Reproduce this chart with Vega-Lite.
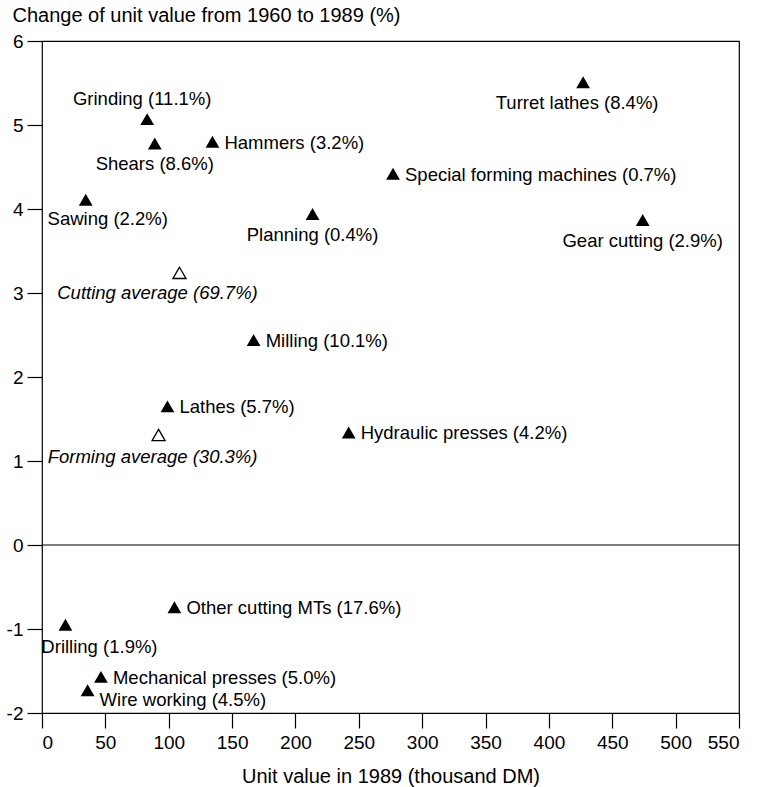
{
  "$schema": "https://vega.github.io/schema/vega-lite/v6.json",
  "width": 697,
  "height": 672,
  "autosize": {"type": "none"},
  "padding": {"left": 42, "top": 41, "right": 20, "bottom": 74},
  "background": "white",
  "config": {
    "view": {"stroke": "black", "strokeWidth": 1.2},
    "font": "Liberation Sans",
    "axis": {
      "domain": false,
      "grid": false,
      "tickColor": "black",
      "tickWidth": 1.2,
      "tickSize": 15,
      "labelColor": "black",
      "labelFont": "Liberation Sans",
      "labelFontSize": 19,
      "titleColor": "black",
      "titleFont": "Liberation Sans",
      "titleFontSize": 20,
      "titleFontWeight": "normal"
    },
    "text": {"font": "Liberation Sans", "fontSize": 18.5, "color": "black", "baseline": "middle"}
  },
  "data": {
    "values": [
      {"machine": "Turret lathes", "label": "Turret lathes (8.4%)", "kind": "type", "unit_value": 427, "change": 5.51},
      {"machine": "Special forming machines", "label": "Special forming machines (0.7%)", "kind": "type", "unit_value": 277, "change": 4.42},
      {"machine": "Gear cutting", "label": "Gear cutting (2.9%)", "kind": "type", "unit_value": 474, "change": 3.87},
      {"machine": "Grinding", "label": "Grinding (11.1%)", "kind": "type", "unit_value": 83, "change": 5.07},
      {"machine": "Shears", "label": "Shears (8.6%)", "kind": "type", "unit_value": 89, "change": 4.78},
      {"machine": "Hammers", "label": "Hammers (3.2%)", "kind": "type", "unit_value": 134.5, "change": 4.8},
      {"machine": "Sawing", "label": "Sawing (2.2%)", "kind": "type", "unit_value": 34.5, "change": 4.11},
      {"machine": "Planning", "label": "Planning (0.4%)", "kind": "type", "unit_value": 213.5, "change": 3.94},
      {"machine": "Cutting average", "label": "Cutting average (69.7%)", "kind": "average", "unit_value": 108.5, "change": 3.24},
      {"machine": "Milling", "label": "Milling (10.1%)", "kind": "type", "unit_value": 167, "change": 2.44},
      {"machine": "Lathes", "label": "Lathes (5.7%)", "kind": "type", "unit_value": 99, "change": 1.65},
      {"machine": "Forming average", "label": "Forming average (30.3%)", "kind": "average", "unit_value": 92, "change": 1.31},
      {"machine": "Hydraulic presses", "label": "Hydraulic presses (4.2%)", "kind": "type", "unit_value": 242, "change": 1.34},
      {"machine": "Other cutting MTs", "label": "Other cutting MTs (17.6%)", "kind": "type", "unit_value": 104.5, "change": -0.74},
      {"machine": "Drilling", "label": "Drilling (1.9%)", "kind": "type", "unit_value": 18.5, "change": -0.95},
      {"machine": "Mechanical presses", "label": "Mechanical presses (5.0%)", "kind": "type", "unit_value": 46.5, "change": -1.57},
      {"machine": "Wire working", "label": "Wire working (4.5%)", "kind": "type", "unit_value": 36, "change": -1.73}
    ]
  },
  "layer": [
    {
      "data": {"values": [{"line": "zero"}]},
      "mark": {"type": "rule", "color": "black", "strokeWidth": 1.2},
      "encoding": {"y": {"datum": 0, "type": "quantitative"}}
    },
    {
      "encoding": {
        "x": {
          "field": "unit_value",
          "type": "quantitative",
          "scale": {"domain": [0, 550], "nice": false, "zero": false},
          "axis": {
            "values": [0, 50, 100, 150, 200, 250, 300, 350, 400, 450, 500, 550],
            "format": "d",
            "title": "Unit value in 1989 (thousand DM)",
            "labelPadding": 5,
            "titleY": 69,
            "titleBaseline": "alphabetic"
          }
        },
        "y": {
          "field": "change",
          "type": "quantitative",
          "scale": {"domain": [-2, 6], "nice": false, "zero": false},
          "axis": {
            "values": [-2, -1, 0, 1, 2, 3, 4, 5, 6],
            "labelExpr": "datum.value + ''",
            "title": "Change of unit value from 1960 to 1989 (%)",
            "labelPadding": 4,
            "titleAngle": 0,
            "titleAlign": "left",
            "titleBaseline": "alphabetic",
            "titleX": -30,
            "titleY": -20
          }
        }
      },
      "layer": [
        {
          "transform": [{"filter": "datum.kind === 'type'"}],
          "mark": {"type": "point", "shape": "triangle-up", "size": 190, "filled": true, "color": "black", "opacity": 1}
        },
        {
          "transform": [{"filter": "datum.kind === 'average'"}],
          "mark": {"type": "point", "shape": "triangle-up", "size": 170, "filled": false, "stroke": "black", "strokeWidth": 1.3, "fill": "white", "opacity": 1}
        },
        {
          "transform": [{"filter": {"field": "machine", "oneOf": ["Hammers", "Special forming machines", "Milling", "Lathes", "Hydraulic presses", "Other cutting MTs", "Mechanical presses"]}}],
          "mark": {"type": "text", "align": "left", "dx": 12, "dy": 1},
          "encoding": {"text": {"field": "label"}}
        },
        {
          "transform": [{"filter": {"field": "machine", "equal": "Wire working"}}],
          "mark": {"type": "text", "align": "left", "dx": 12, "dy": 10},
          "encoding": {"text": {"field": "label"}}
        },
        {
          "transform": [{"filter": {"field": "machine", "oneOf": ["Shears", "Planning", "Gear cutting"]}}],
          "mark": {"type": "text", "align": "center", "dx": 0, "dy": 21},
          "encoding": {"text": {"field": "label"}}
        },
        {
          "transform": [{"filter": {"field": "machine", "equal": "Turret lathes"}}],
          "mark": {"type": "text", "align": "center", "dx": -6, "dy": 21},
          "encoding": {"text": {"field": "label"}}
        },
        {
          "transform": [{"filter": {"field": "machine", "equal": "Sawing"}}],
          "mark": {"type": "text", "align": "center", "dx": 22, "dy": 19},
          "encoding": {"text": {"field": "label"}}
        },
        {
          "transform": [{"filter": {"field": "machine", "equal": "Drilling"}}],
          "mark": {"type": "text", "align": "center", "dx": 34, "dy": 22},
          "encoding": {"text": {"field": "label"}}
        },
        {
          "transform": [{"filter": {"field": "machine", "equal": "Grinding"}}],
          "mark": {"type": "text", "align": "center", "dx": -5, "dy": -20},
          "encoding": {"text": {"field": "label"}}
        },
        {
          "transform": [{"filter": {"field": "machine", "equal": "Cutting average"}}],
          "mark": {"type": "text", "align": "center", "dx": -22, "dy": 20, "fontStyle": "italic"},
          "encoding": {"text": {"field": "label"}}
        },
        {
          "transform": [{"filter": {"field": "machine", "equal": "Forming average"}}],
          "mark": {"type": "text", "align": "center", "dx": -6, "dy": 22, "fontStyle": "italic"},
          "encoding": {"text": {"field": "label"}}
        }
      ]
    }
  ]
}
